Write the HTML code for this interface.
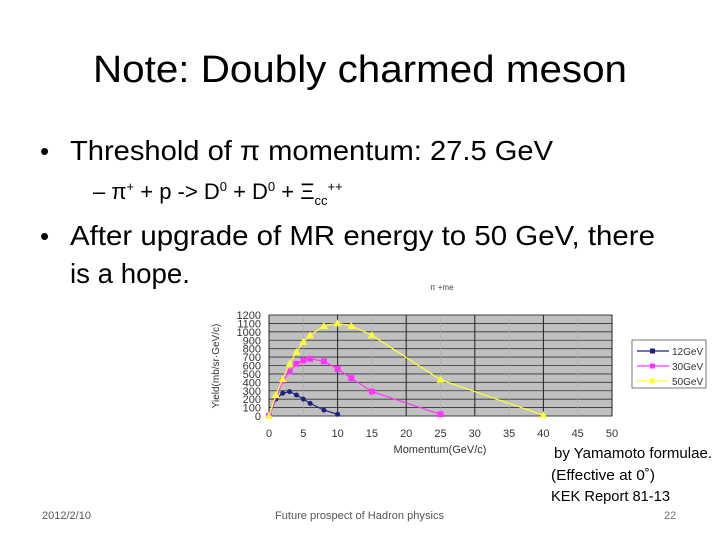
<!DOCTYPE html>
<html><head><meta charset="utf-8"><style>
body{margin:0;background:#fff}
svg{display:block}
text{font-family:"Liberation Sans",sans-serif}
</style></head><body>
<svg id="s" width="720" height="540" viewBox="0 0 720 540">
<text x="93" y="82" font-size="38" textLength="534" lengthAdjust="spacingAndGlyphs">Note: Doubly charmed meson</text>
<text x="40" y="160" font-size="26">•</text>
<text x="70" y="160" font-size="28" textLength="483" lengthAdjust="spacingAndGlyphs">Threshold of π momentum: 27.5 GeV</text>
<text x="93" y="199" font-size="22">– π<tspan font-size="13" dy="-8">+</tspan><tspan dy="8"> + p -&gt; D</tspan><tspan font-size="13" dy="-8">0</tspan><tspan dy="8"> + D</tspan><tspan font-size="13" dy="-8">0</tspan><tspan dy="8"> + Ξ</tspan><tspan font-size="13" dy="6">cc</tspan><tspan font-size="13" dy="-14">++</tspan></text>
<text x="40" y="245" font-size="26">•</text>
<text x="70" y="245" font-size="28" textLength="585" lengthAdjust="spacingAndGlyphs">After upgrade of MR energy to 50 GeV, there</text>
<text x="70" y="283" font-size="28" textLength="120" lengthAdjust="spacingAndGlyphs">is a hope.</text>
<text x="430" y="290" font-size="8" fill="#444">π +me</text>
<g id="chart"></g>
<g>
<rect x="632" y="340" width="74" height="48" fill="#fff" stroke="#555" stroke-width="0.8"/>
<g id="leg"></g>
</g>
<text x="554" y="458" font-size="15" textLength="158" lengthAdjust="spacingAndGlyphs">by Yamamoto formulae.</text>
<text x="551" y="480" font-size="15" textLength="104" lengthAdjust="spacingAndGlyphs">(Effective at 0˚)</text>
<text x="551" y="501" font-size="15" textLength="119" lengthAdjust="spacingAndGlyphs">KEK Report 81-13</text>
<text x="42" y="519" font-size="11" fill="#555">2012/2/10</text>
<text x="275" y="519" font-size="11" fill="#555" textLength="169" lengthAdjust="spacingAndGlyphs">Future prospect of Hadron physics</text>
<text x="664" y="519" font-size="11" fill="#777">22</text>
</svg>
<script>
const xTicks=[0,5,10,15,20,25,30,35,40,45,50];
const yTicks=[0,100,200,300,400,500,600,700,800,900,1000,1100,1200];
const seriesNames=["12GeV","30GeV","50GeV"];
const x12=[0,1,2,3,4,5,6,8,10];
const y12=[0,200,270,290,250,200,150,70,20];
const x30=[0,2,3,4,5,6,8,10,12,15,25];
const y30=[0,420,530,620,660,680,650,560,450,290,20];
const x50=[0,1,2,3,4,5,6,8,10,12,15,25,40];
const y50=[0,250,440,620,760,880,960,1070,1100,1070,960,430,10];
const NS="http://www.w3.org/2000/svg";
const L=269,R=612,T=315,B=416;
const sx=v=>L+(v-0)/50*(R-L);
const sy=v=>B-v/1200*(B-T);
const g=document.getElementById('chart');
function mk(t,a,p){const e=document.createElementNS(NS,t);for(const k in a)e.setAttribute(k,a[k]);(p||g).appendChild(e);return e;}
let e=mk('rect',{x:L,y:T,width:R-L,height:B-T,fill:'#c0c0c0',stroke:'#666','stroke-width':1});


yTicks.forEach(v=>{
 let l=mk('line',{x1:L,x2:R,y1:sy(v),y2:sy(v),stroke:'#333','stroke-width':0.8});
 
 
 let t=mk('text',{x:L-8,y:sy(v)+4,'font-size':11,'text-anchor':'end',fill:'#333'});
 t.textContent=v;
 
 
});
xTicks.forEach(v=>{
 let l=mk('line',{x1:sx(v),x2:sx(v),y1:T,y2:B,stroke:v%10==0?'#222':'#aaa','stroke-width':v%10==0?1:0.6});
 
 
 let t=mk('text',{x:sx(v),y:437,'font-size':11,'text-anchor':'middle',fill:'#333'});
 t.textContent=v;
 
 
});
let xt=mk('text',{x:440,y:453,'font-size':11,'text-anchor':'middle',fill:'#333'});
xt.textContent='Momentum(GeV/c)';


let yt=mk('text',{x:0,y:0,'font-size':10,'text-anchor':'middle',fill:'#333',transform:'translate(219,366) rotate(-90)'});
yt.textContent='Yield(mb/sr·GeV/c)';


const cols=['#1a237e','#ff33ff','#ffff33'];
const data=[[x12,y12],[x30,y30],[x50,y50]];
data.forEach((d,i)=>{
 const pts=d[0].map((x,j)=>sx(x)+','+sy(d[1][j])).join(' ');
 let p=mk('polyline',{points:pts,fill:'none',stroke:cols[i],'stroke-width':1.2});
 
 
 d[0].forEach((x,j)=>{
  const cx=sx(x),cy=sy(d[1][j]);let m;
  if(i==0)m=mk('circle',{cx:cx,cy:cy,r:2.5,fill:cols[i]});
  else if(i==1)m=mk('rect',{x:cx-3,y:cy-3,width:6,height:6,fill:cols[i]});
  else m=mk('polygon',{points:`${cx},${cy-4} ${cx-4},${cy+3} ${cx+4},${cy+3}`,fill:cols[i]});
  
  
 });
});
const lg=document.getElementById('leg');
seriesNames.forEach((n,i)=>{
 const y=351+i*15;
 let l=mk('line',{x1:637,x2:669,y1:y,y2:y,stroke:cols[i],'stroke-width':1.2},lg);
 
 
 let m=mk('rect',{x:650,y:y-2.5,width:5,height:5,fill:cols[i]},lg);
 
 
 let t=mk('text',{x:672,y:y+4,'font-size':10,fill:'#333'},lg);
 t.textContent=n;
 
 
});
</script>
</body></html>
